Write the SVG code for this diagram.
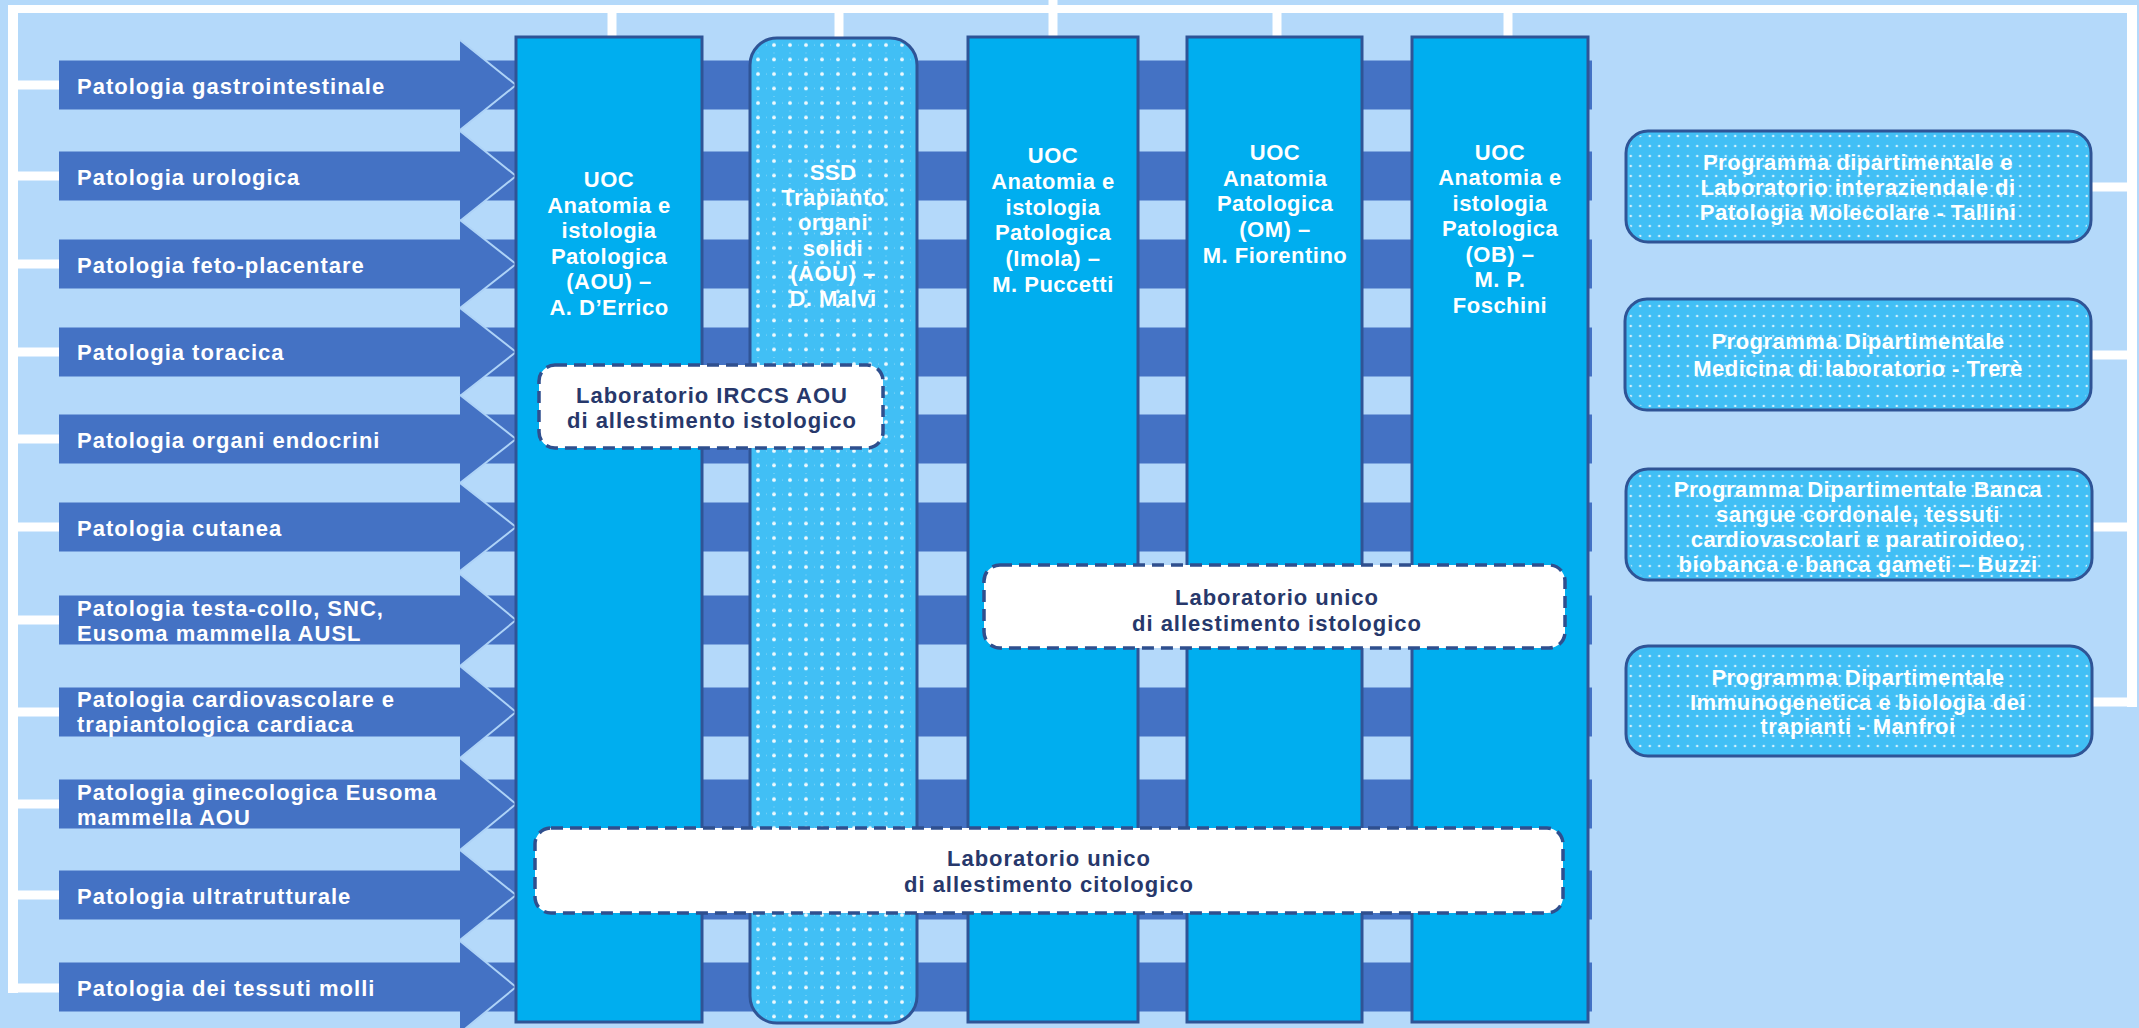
<svg xmlns="http://www.w3.org/2000/svg" width="2139" height="1028" viewBox="0 0 2139 1028">
<style>
.bg{fill:#b4d9fa}
.wl{stroke:#ffffff;fill:none}
.band{fill:#4472c4}
.head{fill:#4472c4}
.edge{fill:none;stroke:#aed3f7;stroke-width:2}
.at{font-family:"Liberation Sans",Arial,sans-serif;font-weight:bold;font-size:22px;letter-spacing:1px;fill:#ffffff}
.col{fill:#00aeef;stroke:#2f5496;stroke-width:3}
.ssd{fill:#41bff5;stroke:#2f5496;stroke-width:3}
.ct{font-family:"Liberation Sans",Arial,sans-serif;font-weight:bold;font-size:22px;letter-spacing:0.5px;fill:#ffffff;text-anchor:middle}
.lab{fill:#ffffff;stroke:#2f4f8e;stroke-width:3.5;stroke-dasharray:12 7}
.lt{font-family:"Liberation Sans",Arial,sans-serif;font-weight:bold;font-size:22px;letter-spacing:1px;fill:#27386b;text-anchor:middle}
.prog{fill:#41bff5;stroke:#2f5496;stroke-width:3}
.dots1{fill:url(#dotsA)}
.dots2{fill:url(#dotsB)}
</style>
<defs>
<pattern id="dotsA" patternUnits="userSpaceOnUse" x="750" y="38" width="16" height="14.5">
<circle cx="8" cy="7" r="1.9" fill="#ffffff" fill-opacity="0.9"/>
<circle cx="0" cy="7" r="0.8" fill="#ffffff" fill-opacity="0.45"/>
<circle cx="8" cy="0" r="0.8" fill="#ffffff" fill-opacity="0.45"/>
</pattern>
<pattern id="dotsB" patternUnits="userSpaceOnUse" x="1626" y="131" width="9.5" height="10">
<circle cx="4.75" cy="5" r="1.3" fill="#ffffff" fill-opacity="0.75"/>
</pattern>
</defs>
<rect class="bg" x="0" y="0" width="2139" height="1028"/>

<g id="connectors">
<line class="wl" stroke-width="8" x1="8" y1="9" x2="2137" y2="9"/>
<line class="wl" stroke-width="10" x1="13" y1="5" x2="13" y2="993"/>
<line class="wl" stroke-width="10" x1="2132" y1="5" x2="2132" y2="707"/>
<g stroke-width="9" class="wl">
<line x1="13" y1="85" x2="60" y2="85"/>
<line x1="13" y1="176" x2="60" y2="176"/>
<line x1="13" y1="264" x2="60" y2="264"/>
<line x1="13" y1="352" x2="60" y2="352"/>
<line x1="13" y1="439" x2="60" y2="439"/>
<line x1="13" y1="527" x2="60" y2="527"/>
<line x1="13" y1="620" x2="60" y2="620"/>
<line x1="13" y1="712" x2="60" y2="712"/>
<line x1="13" y1="804" x2="60" y2="804"/>
<line x1="13" y1="895" x2="60" y2="895"/>
<line x1="8" y1="988" x2="60" y2="988"/>
<line x1="612" y1="9" x2="612" y2="38"/>
<line x1="839" y1="9" x2="839" y2="39"/>
<line x1="1053" y1="0" x2="1053" y2="38"/>
<line x1="1277" y1="9" x2="1277" y2="38"/>
<line x1="1508" y1="9" x2="1508" y2="38"/>
<line x1="2090" y1="187" x2="2132" y2="187"/>
<line x1="2090" y1="355" x2="2132" y2="355"/>
<line x1="2090" y1="527" x2="2132" y2="527"/>
<line x1="2090" y1="702" x2="2137" y2="702"/>
</g>
</g>

<g id="arrow-1"><rect class="band" x="59" y="60.5" width="1533" height="49"/><path class="head" d="M460 40 L516 85 L460 130 Z"/><path class="edge" d="M460 40 L516 85 L460 130"/><text class="at" x="77" y="94">Patologia gastrointestinale</text></g>
<g id="arrow-2"><rect class="band" x="59" y="151.5" width="1533" height="49"/><path class="head" d="M460 131 L516 176 L460 221 Z"/><path class="edge" d="M460 131 L516 176 L460 221"/><text class="at" x="77" y="185">Patologia urologica</text></g>
<g id="arrow-3"><rect class="band" x="59" y="239.5" width="1533" height="49"/><path class="head" d="M460 220 L516 264 L460 308 Z"/><path class="edge" d="M460 220 L516 264 L460 308"/><text class="at" x="77" y="273">Patologia feto-placentare</text></g>
<g id="arrow-4"><rect class="band" x="59" y="327.5" width="1533" height="49"/><path class="head" d="M460 308 L516 352 L460 396 Z"/><path class="edge" d="M460 308 L516 352 L460 396"/><text class="at" x="77" y="360">Patologia toracica</text></g>
<g id="arrow-5"><rect class="band" x="59" y="414.5" width="1533" height="49"/><path class="head" d="M460 395 L516 439 L460 483 Z"/><path class="edge" d="M460 395 L516 439 L460 483"/><text class="at" x="77" y="448">Patologia organi endocrini</text></g>
<g id="arrow-6"><rect class="band" x="59" y="502.5" width="1533" height="49"/><path class="head" d="M460 483 L516 527 L460 571 Z"/><path class="edge" d="M460 483 L516 527 L460 571"/><text class="at" x="77" y="536">Patologia cutanea</text></g>
<g id="arrow-7"><rect class="band" x="59" y="595.5" width="1533" height="49"/><path class="head" d="M460 574 L516 620 L460 666 Z"/><path class="edge" d="M460 574 L516 620 L460 666"/><text class="at" x="77" y="616">Patologia testa-collo, SNC,</text><text class="at" x="77" y="641">Eusoma mammella AUSL</text></g>
<g id="arrow-8"><rect class="band" x="59" y="687.5" width="1533" height="49"/><path class="head" d="M460 666 L516 712 L460 758 Z"/><path class="edge" d="M460 666 L516 712 L460 758"/><text class="at" x="77" y="707">Patologia cardiovascolare e</text><text class="at" x="77" y="732">trapiantologica cardiaca</text></g>
<g id="arrow-9"><rect class="band" x="59" y="779.5" width="1533" height="49"/><path class="head" d="M460 758 L516 804 L460 850 Z"/><path class="edge" d="M460 758 L516 804 L460 850"/><text class="at" x="77" y="800">Patologia ginecologica Eusoma</text><text class="at" x="77" y="825">mammella AOU</text></g>
<g id="arrow-10"><rect class="band" x="59" y="870.5" width="1533" height="49"/><path class="head" d="M460 850 L516 895 L460 940 Z"/><path class="edge" d="M460 850 L516 895 L460 940"/><text class="at" x="77" y="904">Patologia ultratrutturale</text></g>
<g id="arrow-11"><rect class="band" x="59" y="962.5" width="1533" height="49"/><path class="head" d="M460 941 L516 987 L460 1033 Z"/><path class="edge" d="M460 941 L516 987 L460 1033"/><text class="at" x="77" y="996">Patologia dei tessuti molli</text></g>

<g id="col-aou">
<rect class="col" x="516" y="37" width="186" height="985"/>
<text class="ct"><tspan x="609" y="187">UOC</tspan><tspan x="609" y="213">Anatomia e</tspan><tspan x="609" y="238">istologia</tspan><tspan x="609" y="264">Patologica</tspan><tspan x="609" y="289">(AOU) –</tspan><tspan x="609" y="315">A. D’Errico</tspan></text>
</g>
<g id="col-ssd">
<rect class="ssd" x="750" y="38" width="167" height="985" rx="27"/>
<text class="ct"><tspan x="833" y="180">SSD</tspan><tspan x="833" y="205">Trapianto</tspan><tspan x="833" y="230">organi</tspan><tspan x="833" y="256">solidi</tspan><tspan x="833" y="281">(AOU) –</tspan><tspan x="833" y="306">D. Malvi</tspan></text>
<rect class="dots1" x="752" y="40" width="163" height="981" rx="25"/>
</g>
<g id="col-imola">
<rect class="col" x="968" y="37" width="170" height="985"/>
<text class="ct"><tspan x="1053" y="163">UOC</tspan><tspan x="1053" y="189">Anatomia e</tspan><tspan x="1053" y="215">istologia</tspan><tspan x="1053" y="240">Patologica</tspan><tspan x="1053" y="266">(Imola) –</tspan><tspan x="1053" y="292">M. Puccetti</tspan></text>
</g>
<g id="col-om">
<rect class="col" x="1187" y="37" width="175" height="985"/>
<text class="ct"><tspan x="1275" y="160">UOC</tspan><tspan x="1275" y="186">Anatomia</tspan><tspan x="1275" y="211">Patologica</tspan><tspan x="1275" y="237">(OM) –</tspan><tspan x="1275" y="263">M. Fiorentino</tspan></text>
</g>
<g id="col-ob">
<rect class="col" x="1412" y="37" width="176" height="985"/>
<text class="ct"><tspan x="1500" y="160">UOC</tspan><tspan x="1500" y="185">Anatomia e</tspan><tspan x="1500" y="211">istologia</tspan><tspan x="1500" y="236">Patologica</tspan><tspan x="1500" y="262">(OB) –</tspan><tspan x="1500" y="287">M. P.</tspan><tspan x="1500" y="313">Foschini</tspan></text>
</g>

<g id="lab-irccs">
<rect class="lab" x="539" y="365" width="344" height="83" rx="16"/>
<text class="lt"><tspan x="712" y="403">Laboratorio IRCCS AOU</tspan><tspan x="712" y="428">di allestimento istologico</tspan></text>
</g>
<g id="lab-istologico">
<rect class="lab" x="984" y="565" width="581" height="83" rx="16"/>
<text class="lt"><tspan x="1277" y="605">Laboratorio unico</tspan><tspan x="1277" y="631">di allestimento istologico</tspan></text>
</g>
<g id="lab-citologico">
<rect class="lab" x="535" y="828" width="1028" height="85" rx="16"/>
<text class="lt"><tspan x="1049" y="866">Laboratorio unico</tspan><tspan x="1049" y="892">di allestimento citologico</tspan></text>
</g>

<g id="prog-1">
<rect class="prog" x="1626" y="131" width="465" height="111" rx="22"/>
<rect class="dots2" x="1629" y="134" width="459" height="105" rx="20"/>
<text class="ct"><tspan x="1858" y="170">Programma dipartimentale e</tspan><tspan x="1858" y="195">Laboratorio interaziendale di</tspan><tspan x="1858" y="220">Patologia Molecolare - Tallini</tspan></text>
</g>
<g id="prog-2">
<rect class="prog" x="1625" y="299" width="466" height="111" rx="22"/>
<rect class="dots2" x="1628" y="302" width="460" height="105" rx="20"/>
<text class="ct"><tspan x="1858" y="349">Programma Dipartimentale</tspan><tspan x="1858" y="376">Medicina di laboratorio - Trerè</tspan></text>
</g>
<g id="prog-3">
<rect class="prog" x="1626" y="469" width="466" height="111" rx="22"/>
<rect class="dots2" x="1629" y="472" width="460" height="105" rx="20"/>
<text class="ct"><tspan x="1858" y="497">Programma Dipartimentale Banca</tspan><tspan x="1858" y="522">sangue cordonale, tessuti</tspan><tspan x="1858" y="547">cardiovascolari e paratiroideo,</tspan><tspan x="1858" y="572">biobanca e banca gameti – Buzzi</tspan></text>
</g>
<g id="prog-4">
<rect class="prog" x="1626" y="646" width="466" height="110" rx="22"/>
<rect class="dots2" x="1629" y="649" width="460" height="104" rx="20"/>
<text class="ct"><tspan x="1858" y="685">Programma Dipartimentale</tspan><tspan x="1858" y="710">Immunogenetica e biologia dei</tspan><tspan x="1858" y="734">trapianti - Manfroi</tspan></text>
</g>
</svg>
